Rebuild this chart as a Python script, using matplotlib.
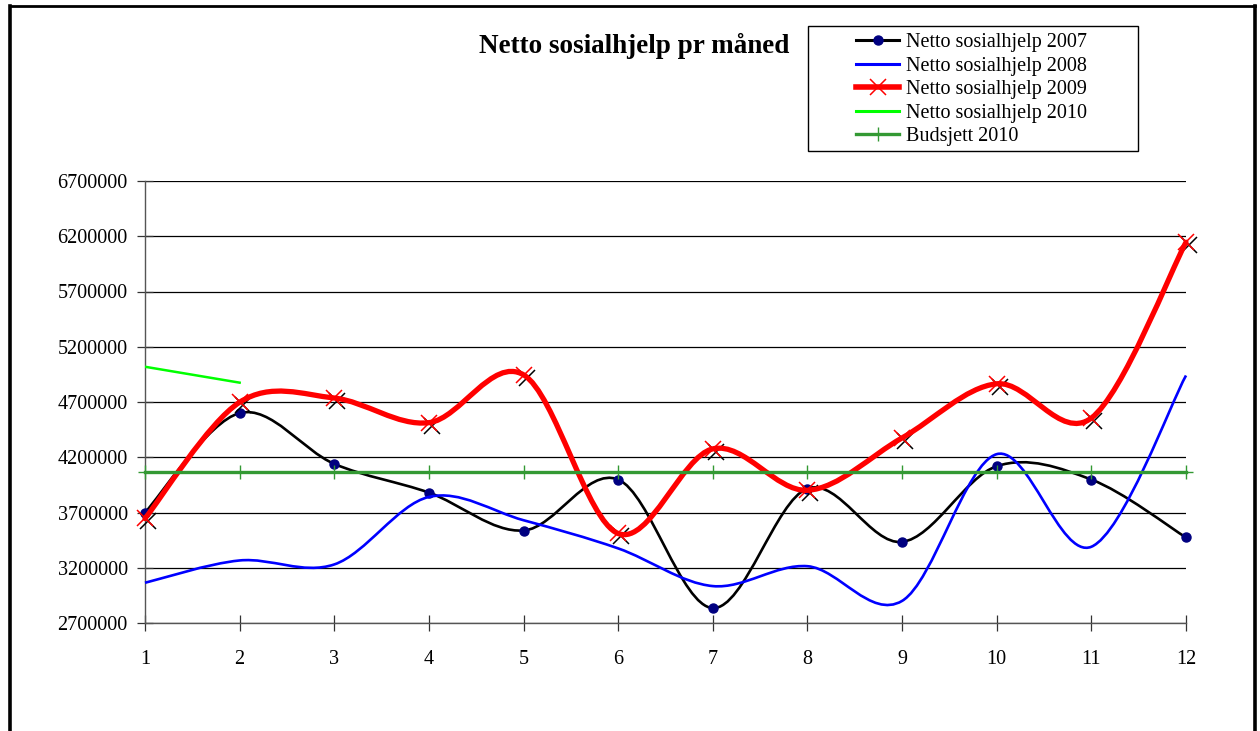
import matplotlib
matplotlib.use("Agg")
import matplotlib.pyplot as plt
from matplotlib.path import Path
from matplotlib.patches import PathPatch, Rectangle
from matplotlib.lines import Line2D
from matplotlib import transforms
import numpy as np

plt.rcParams['font.family'] = ['Liberation Serif', 'DejaVu Serif']

months = list(range(1, 13))
netto_2007 = [3700000, 4600000, 4140000, 3880000, 3537000, 3998000,
              2835000, 3917000, 3434000, 4119000, 3998000, 3474000]
netto_2008 = [3064000, 3266000, 3230000, 3841000, 3630000, 3375000,
              3034000, 3214000, 2900000, 4228000, 3390000, 4940000]
netto_2009 = [3646000, 4698000, 4736000, 4513000, 4946000, 3510000,
              4276000, 3901000, 4375000, 4865000, 4555000, 6146000]
months_2010 = [1, 2]
netto_2010 = [5019000, 4875000]
budsjett_2010 = [4070000] * 12

yticks = list(range(2700000, 6700001, 500000))
title = "Netto sosialhjelp pr måned"
labels = ["Netto sosialhjelp 2007", "Netto sosialhjelp 2008",
          "Netto sosialhjelp 2009", "Netto sosialhjelp 2010", "Budsjett 2010"]


def smooth_path(xs, ys):
    n = len(xs)
    verts = [(xs[0], ys[0])]
    codes = [Path.MOVETO]
    for i in range(n - 1):
        p0 = i - 1 if i > 0 else i
        p3 = i + 2 if i + 2 < n else i + 1
        c1 = (xs[i] + (xs[i + 1] - xs[p0]) / 6.0, ys[i] + (ys[i + 1] - ys[p0]) / 6.0)
        c2 = (xs[i + 1] - (xs[p3] - xs[i]) / 6.0, ys[i + 1] - (ys[p3] - ys[i]) / 6.0)
        verts += [c1, c2, (xs[i + 1], ys[i + 1])]
        codes += [Path.CURVE4] * 3
    return Path(verts, codes)


fig = plt.figure(figsize=(12.6, 7.31), dpi=100)
ax = fig.add_axes([145 / 1260, 1 - 623 / 731, (1186 - 145) / 1260, (623 - 181) / 731])
ax.set_xlim(1, 12)
ax.set_ylim(2700000, 6700000)

ax.set_yticks(yticks)
ax.set_yticklabels([str(v) for v in yticks])
ax.set_xticks(months)
ax.set_xticklabels([str(m) for m in months])
ax.yaxis.grid(True, color='black', linewidth=0.9)
ax.set_axisbelow(True)
for s in ['top', 'right']:
    ax.spines[s].set_visible(False)
for s in ['left', 'bottom']:
    ax.spines[s].set_color('#555555')
    ax.spines[s].set_linewidth(1.0)
ax.tick_params(axis='both', direction='inout', length=11, width=0.9, color='#333333',
               labelsize=14.5)
ax.tick_params(axis='y', pad=7)
ax.tick_params(axis='x', pad=14)

# 2007
ax.add_patch(PathPatch(smooth_path(months, netto_2007), fill=False, edgecolor='black',
                       linewidth=1.9, zorder=3, clip_on=False))
ax.plot(months, netto_2007, linestyle='none', marker='o', markersize=6.5,
        color='#000080', zorder=3.1, clip_on=False)
# 2008
ax.add_patch(PathPatch(smooth_path(months, netto_2008), fill=False, edgecolor='#0000FF',
                       linewidth=1.9, zorder=3.2, clip_on=False))
# 2009 (black shadow x then red)
shadow = ax.transData + transforms.ScaledTranslation(3 / 100, -3 / 100, fig.dpi_scale_trans)
ax.plot(months, netto_2009, linestyle='none', marker='x', markersize=11, markeredgewidth=1.1,
        color='black', zorder=3.3, transform=shadow, clip_on=False)
ax.add_patch(PathPatch(smooth_path(months, netto_2009), fill=False, edgecolor='#FF0000',
                       linewidth=3.8, zorder=3.4, clip_on=False, capstyle='round'))
ax.plot(months, netto_2009, linestyle='none', marker='x', markersize=11, markeredgewidth=1.1,
        color='#FF0000', zorder=3.5, clip_on=False)
# 2010
ax.plot(months_2010, netto_2010, color='#00FF00', linewidth=1.8, zorder=3.6)
# budget
ax.plot(months, budsjett_2010, color='#339933', linewidth=2.4, marker='+', markersize=10,
        markeredgewidth=1.0, zorder=3.7, clip_on=False)

# title
fig.text(634 / 1260, 1 - 46 / 731, title, ha='center', va='center', fontsize=19.5,
         fontweight='bold')

# legend
handles = [
    Line2D([], [], color='black', linewidth=2.2, marker='o', markersize=6.5,
           markerfacecolor='#000080', markeredgecolor='#000080'),
    Line2D([], [], color='#0000FF', linewidth=2.2),
    Line2D([], [], color='#FF0000', linewidth=4, marker='x', markersize=11,
           markeredgewidth=1.1),
    Line2D([], [], color='#00FF00', linewidth=2.2),
    Line2D([], [], color='#339933', linewidth=2.4, marker='+', markersize=10,
           markeredgewidth=1.0),
]
fig.patches.append(Rectangle((808 / 1260, 1 - 151 / 731), (1138 - 808) / 1260,
                             (151 - 26) / 731, transform=fig.transFigure, fill=False,
                             edgecolor='black', linewidth=1.0))
fig.legend(handles, labels, loc='upper left', bbox_to_anchor=(856 / 1260, 1 - 33 / 731),
           frameon=False, fontsize=14.5, handlelength=2.15, handletextpad=0.33,
           labelspacing=0.22, borderpad=0, borderaxespad=0)

# figure border
fig.add_artist(Line2D([9.5 / 1260, 9.5 / 1260], [0, 1 - 6 / 731], color='black',
                      linewidth=2.6, transform=fig.transFigure))
fig.add_artist(Line2D([9.5 / 1260, 1255 / 1260], [1 - 6 / 731, 1 - 6 / 731], color='black',
                      linewidth=2.0, transform=fig.transFigure))
fig.add_artist(Line2D([1255 / 1260, 1255 / 1260], [0, 1 - 6 / 731], color='black',
                      linewidth=2.6, transform=fig.transFigure))

fig.savefig('out.png', dpi=100)
